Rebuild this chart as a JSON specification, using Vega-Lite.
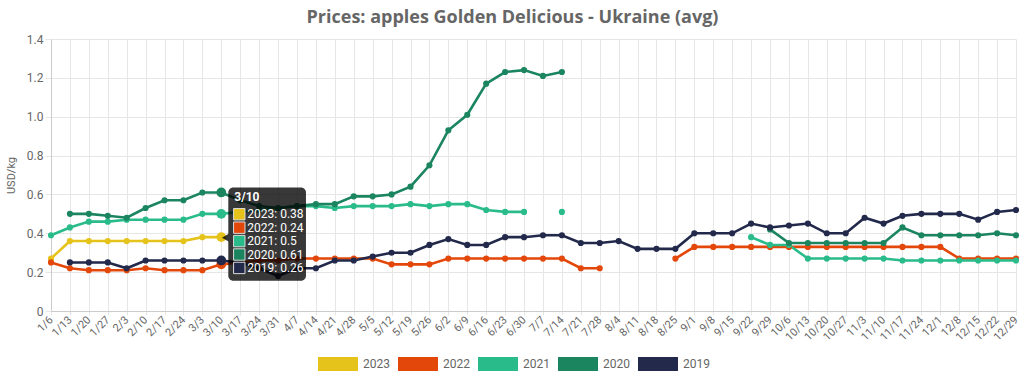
{
  "$schema": "https://vega.github.io/schema/vega-lite/v6.json",
  "width": 965,
  "height": 272,
  "autosize": {"type": "none"},
  "padding": {"left": 51, "top": 39, "right": 8, "bottom": 68},
  "background": "white",
  "config": {
    "view": {"stroke": null},
    "font": "Roboto"
  },
  "title": {
    "text": "Prices: apples Golden Delicious - Ukraine (avg)",
    "font": "Open Sans",
    "fontSize": 18,
    "fontWeight": "bold",
    "color": "#666666",
    "anchor": "middle",
    "dx": -21,
    "offset": 6
  },
  "datasets": {
    "tip": [
      {"row": 0, "text": "3/10", "year": null},
      {"row": 1, "text": "2023: 0.38", "year": "2023"},
      {"row": 2, "text": "2022: 0.24", "year": "2022"},
      {"row": 3, "text": "2021: 0.5", "year": "2021"},
      {"row": 4, "text": "2020: 0.61", "year": "2020"},
      {"row": 5, "text": "2019: 0.26", "year": "2019"}
    ]
  },
  "layer": [
    {
      "data": {"values": [
        {"week":"1/6","year":"2023","price":0.27},{"week":"1/13","year":"2023","price":0.36},{"week":"1/20","year":"2023","price":0.36},{"week":"1/27","year":"2023","price":0.36},{"week":"2/3","year":"2023","price":0.36},{"week":"2/10","year":"2023","price":0.36},{"week":"2/17","year":"2023","price":0.36},{"week":"2/24","year":"2023","price":0.36},{"week":"3/3","year":"2023","price":0.38},{"week":"3/10","year":"2023","price":0.38},

        {"week":"1/6","year":"2022","price":0.25},{"week":"1/13","year":"2022","price":0.22},{"week":"1/20","year":"2022","price":0.21},{"week":"1/27","year":"2022","price":0.21},{"week":"2/3","year":"2022","price":0.21},{"week":"2/10","year":"2022","price":0.22},{"week":"2/17","year":"2022","price":0.21},{"week":"2/24","year":"2022","price":0.21},{"week":"3/3","year":"2022","price":0.21},{"week":"3/10","year":"2022","price":0.24},{"week":"3/17","year":"2022","price":0.25},{"week":"3/24","year":"2022","price":0.26},{"week":"3/31","year":"2022","price":0.26},{"week":"4/7","year":"2022","price":0.27},{"week":"4/14","year":"2022","price":0.27},{"week":"4/21","year":"2022","price":0.27},{"week":"4/28","year":"2022","price":0.27},{"week":"5/5","year":"2022","price":0.27},{"week":"5/12","year":"2022","price":0.24},{"week":"5/19","year":"2022","price":0.24},{"week":"5/26","year":"2022","price":0.24},{"week":"6/2","year":"2022","price":0.27},{"week":"6/9","year":"2022","price":0.27},{"week":"6/16","year":"2022","price":0.27},{"week":"6/23","year":"2022","price":0.27},{"week":"6/30","year":"2022","price":0.27},{"week":"7/7","year":"2022","price":0.27},{"week":"7/14","year":"2022","price":0.27},{"week":"7/21","year":"2022","price":0.22},{"week":"7/28","year":"2022","price":0.22},{"week":"8/4","year":"2022","price":null},{"week":"8/25","year":"2022","price":0.27},{"week":"9/1","year":"2022","price":0.33},{"week":"9/8","year":"2022","price":0.33},{"week":"9/15","year":"2022","price":0.33},{"week":"9/22","year":"2022","price":0.33},{"week":"9/29","year":"2022","price":0.33},{"week":"10/6","year":"2022","price":0.33},{"week":"10/13","year":"2022","price":0.33},{"week":"10/20","year":"2022","price":0.33},{"week":"10/27","year":"2022","price":0.33},{"week":"11/3","year":"2022","price":0.33},{"week":"11/10","year":"2022","price":0.33},{"week":"11/17","year":"2022","price":0.33},{"week":"11/24","year":"2022","price":0.33},{"week":"12/1","year":"2022","price":0.33},{"week":"12/8","year":"2022","price":0.27},{"week":"12/15","year":"2022","price":0.27},{"week":"12/22","year":"2022","price":0.27},{"week":"12/29","year":"2022","price":0.27},

        {"week":"1/6","year":"2021","price":0.39},{"week":"1/13","year":"2021","price":0.43},{"week":"1/20","year":"2021","price":0.46},{"week":"1/27","year":"2021","price":0.46},{"week":"2/3","year":"2021","price":0.47},{"week":"2/10","year":"2021","price":0.47},{"week":"2/17","year":"2021","price":0.47},{"week":"2/24","year":"2021","price":0.47},{"week":"3/3","year":"2021","price":0.5},{"week":"3/10","year":"2021","price":0.5},{"week":"3/17","year":"2021","price":0.51},{"week":"3/24","year":"2021","price":0.52},{"week":"3/31","year":"2021","price":0.53},{"week":"4/7","year":"2021","price":0.54},{"week":"4/14","year":"2021","price":0.54},{"week":"4/21","year":"2021","price":0.53},{"week":"4/28","year":"2021","price":0.54},{"week":"5/5","year":"2021","price":0.54},{"week":"5/12","year":"2021","price":0.54},{"week":"5/19","year":"2021","price":0.55},{"week":"5/26","year":"2021","price":0.54},{"week":"6/2","year":"2021","price":0.55},{"week":"6/9","year":"2021","price":0.55},{"week":"6/16","year":"2021","price":0.52},{"week":"6/23","year":"2021","price":0.51},{"week":"6/30","year":"2021","price":0.51},{"week":"7/7","year":"2021","price":null},{"week":"7/14","year":"2021","price":0.51},{"week":"7/21","year":"2021","price":null},{"week":"9/22","year":"2021","price":0.38},{"week":"9/29","year":"2021","price":0.34},{"week":"10/6","year":"2021","price":0.34},{"week":"10/13","year":"2021","price":0.27},{"week":"10/20","year":"2021","price":0.27},{"week":"10/27","year":"2021","price":0.27},{"week":"11/3","year":"2021","price":0.27},{"week":"11/10","year":"2021","price":0.27},{"week":"11/17","year":"2021","price":0.26},{"week":"11/24","year":"2021","price":0.26},{"week":"12/1","year":"2021","price":0.26},{"week":"12/8","year":"2021","price":0.26},{"week":"12/15","year":"2021","price":0.26},{"week":"12/22","year":"2021","price":0.26},{"week":"12/29","year":"2021","price":0.26},

        {"week":"1/13","year":"2020","price":0.5},{"week":"1/20","year":"2020","price":0.5},{"week":"1/27","year":"2020","price":0.49},{"week":"2/3","year":"2020","price":0.48},{"week":"2/10","year":"2020","price":0.53},{"week":"2/17","year":"2020","price":0.57},{"week":"2/24","year":"2020","price":0.57},{"week":"3/3","year":"2020","price":0.61},{"week":"3/10","year":"2020","price":0.61},{"week":"3/17","year":"2020","price":0.57},{"week":"3/24","year":"2020","price":0.54},{"week":"3/31","year":"2020","price":0.53},{"week":"4/7","year":"2020","price":0.54},{"week":"4/14","year":"2020","price":0.55},{"week":"4/21","year":"2020","price":0.55},{"week":"4/28","year":"2020","price":0.59},{"week":"5/5","year":"2020","price":0.59},{"week":"5/12","year":"2020","price":0.6},{"week":"5/19","year":"2020","price":0.64},{"week":"5/26","year":"2020","price":0.75},{"week":"6/2","year":"2020","price":0.93},{"week":"6/9","year":"2020","price":1.01},{"week":"6/16","year":"2020","price":1.17},{"week":"6/23","year":"2020","price":1.23},{"week":"6/30","year":"2020","price":1.24},{"week":"7/7","year":"2020","price":1.21},{"week":"7/14","year":"2020","price":1.23},{"week":"7/21","year":"2020","price":null},{"week":"9/29","year":"2020","price":0.42},{"week":"10/6","year":"2020","price":0.35},{"week":"10/13","year":"2020","price":0.35},{"week":"10/20","year":"2020","price":0.35},{"week":"10/27","year":"2020","price":0.35},{"week":"11/3","year":"2020","price":0.35},{"week":"11/10","year":"2020","price":0.35},{"week":"11/17","year":"2020","price":0.43},{"week":"11/24","year":"2020","price":0.39},{"week":"12/1","year":"2020","price":0.39},{"week":"12/8","year":"2020","price":0.39},{"week":"12/15","year":"2020","price":0.39},{"week":"12/22","year":"2020","price":0.4},{"week":"12/29","year":"2020","price":0.39},

        {"week":"1/13","year":"2019","price":0.25},{"week":"1/20","year":"2019","price":0.25},{"week":"1/27","year":"2019","price":0.25},{"week":"2/3","year":"2019","price":0.22},{"week":"2/10","year":"2019","price":0.26},{"week":"2/17","year":"2019","price":0.26},{"week":"2/24","year":"2019","price":0.26},{"week":"3/3","year":"2019","price":0.26},{"week":"3/10","year":"2019","price":0.26},{"week":"3/17","year":"2019","price":0.25},{"week":"3/24","year":"2019","price":0.22},{"week":"3/31","year":"2019","price":0.18},{"week":"4/7","year":"2019","price":0.22},{"week":"4/14","year":"2019","price":0.22},{"week":"4/21","year":"2019","price":0.26},{"week":"4/28","year":"2019","price":0.26},{"week":"5/5","year":"2019","price":0.28},{"week":"5/12","year":"2019","price":0.3},{"week":"5/19","year":"2019","price":0.3},{"week":"5/26","year":"2019","price":0.34},{"week":"6/2","year":"2019","price":0.37},{"week":"6/9","year":"2019","price":0.34},{"week":"6/16","year":"2019","price":0.34},{"week":"6/23","year":"2019","price":0.38},{"week":"6/30","year":"2019","price":0.38},{"week":"7/7","year":"2019","price":0.39},{"week":"7/14","year":"2019","price":0.39},{"week":"7/21","year":"2019","price":0.35},{"week":"7/28","year":"2019","price":0.35},{"week":"8/4","year":"2019","price":0.36},{"week":"8/11","year":"2019","price":0.32},{"week":"8/18","year":"2019","price":0.32},{"week":"8/25","year":"2019","price":0.32},{"week":"9/1","year":"2019","price":0.4},{"week":"9/8","year":"2019","price":0.4},{"week":"9/15","year":"2019","price":0.4},{"week":"9/22","year":"2019","price":0.45},{"week":"9/29","year":"2019","price":0.43},{"week":"10/6","year":"2019","price":0.44},{"week":"10/13","year":"2019","price":0.45},{"week":"10/20","year":"2019","price":0.4},{"week":"10/27","year":"2019","price":0.4},{"week":"11/3","year":"2019","price":0.48},{"week":"11/10","year":"2019","price":0.45},{"week":"11/17","year":"2019","price":0.49},{"week":"11/24","year":"2019","price":0.5},{"week":"12/1","year":"2019","price":0.5},{"week":"12/8","year":"2019","price":0.5},{"week":"12/15","year":"2019","price":0.47},{"week":"12/22","year":"2019","price":0.51},{"week":"12/29","year":"2019","price":0.52}
      ]},
      "encoding": {
        "x": {
          "field": "week",
          "type": "ordinal",
          "sort": ["1/6","1/13","1/20","1/27","2/3","2/10","2/17","2/24","3/3","3/10","3/17","3/24","3/31","4/7","4/14","4/21","4/28","5/5","5/12","5/19","5/26","6/2","6/9","6/16","6/23","6/30","7/7","7/14","7/21","7/28","8/4","8/11","8/18","8/25","9/1","9/8","9/15","9/22","9/29","10/6","10/13","10/20","10/27","11/3","11/10","11/17","11/24","12/1","12/8","12/15","12/22","12/29"],
          "scale": {"type": "point", "padding": 0},
          "axis": {
            "title": null,
            "labelAngle": -45,
            "labelAlign": "right",
            "labelBaseline": "middle",
            "labelFontSize": 11,
            "labelColor": "#666666",
            "labelPadding": 3,
            "tickSize": 4,
            "tickColor": "#e6e6e6",
            "domainColor": "#cccccc",
            "grid": true,
            "gridColor": "#e6e6e6"
          }
        },
        "y": {
          "field": "price",
          "type": "quantitative",
          "scale": {"domain": [0, 1.4], "nice": false},
          "axis": {
            "title": "USD/kg",
            "values": [0, 0.2, 0.4, 0.6, 0.8, 1.0, 1.2, 1.4],
            "labelExpr": "datum.value == 0 ? '0' : format(datum.value, '.1f')",
            "labelFontSize": 12,
            "labelColor": "#666666",
            "labelPadding": 2,
            "tickSize": 6,
            "tickColor": "#e6e6e6",
            "domainColor": "#cccccc",
            "gridColor": "#e6e6e6",
            "titleFontSize": 11,
            "titleFontWeight": "normal",
            "titleColor": "#666666",
            "titlePadding": 10
          }
        },
        "color": {
          "field": "year",
          "type": "nominal",
          "scale": {
            "domain": ["2023", "2022", "2021", "2020", "2019"],
            "range": ["#e6c31b", "#e4470a", "#2abb8a", "#1b8560", "#22294b"]
          },
          "legend": {
            "title": null,
            "orient": "none",
            "direction": "horizontal",
            "legendX": 267,
            "legendY": 305,
            "symbolType": "M-1,-0.35H1V0.35H-1Z",
            "symbolSize": 1600,
            "symbolStrokeWidth": 0,
            "labelFontSize": 12,
            "labelColor": "#666666",
            "labelOffset": 5,
            "columnPadding": 8,
            "encode": {
              "symbols": {
                "update": {
                  "fill": {"scale": "color", "field": "value"},
                  "opacity": {"value": 1}
                }
              }
            }
          }
        }
      },
      "layer": [
        {"mark": {"type": "line", "strokeWidth": 2.6, "invalid": "break-paths-filter-domains"}},
        {
          "mark": {"type": "point", "filled": true, "opacity": 1},
          "encoding": {
            "size": {"condition": {"test": "datum.week === '3/10'", "value": 95}, "value": 38}
          }
        }
      ]
    },
    {
      "layer": [
        {
          "data": {"values": [{}]},
          "mark": {"type": "rect", "fill": "#000000", "opacity": 0.78, "cornerRadius": 5, "xOffset": 7, "x2Offset": 9},
          "encoding": {
            "x": {"datum": "3/10"},
            "x2": {"datum": "4/7"},
            "y": {"datum": -1, "type": "quantitative", "scale": {"domain": [-12.06, 8.21], "reverse": true, "nice": false, "zero": false}, "axis": null},
            "y2": {"datum": 5.95}
          }
        },
        {
          "data": {"values": [{}]},
          "mark": {"type": "point", "shape": "triangle-left", "filled": true, "fill": "#000000", "opacity": 0.78, "size": 60, "xOffset": 4},
          "encoding": {
            "x": {"datum": "3/10"},
            "y": {"datum": 2.75, "type": "quantitative", "scale": {"domain": [-12.06, 8.21], "reverse": true, "nice": false, "zero": false}, "axis": null}
          }
        },
        {
          "data": {"name": "tip"},
          "transform": [{"filter": "datum.row == 0"}],
          "mark": {"type": "text", "align": "left", "baseline": "middle", "dx": 13, "dy": -3.4, "color": "#ffffff", "font": "Roboto", "fontSize": 12, "fontWeight": "bold"},
          "encoding": {
            "x": {"datum": "3/10"},
            "y": {"field": "row", "type": "quantitative", "scale": {"domain": [-12.06, 8.21], "reverse": true, "nice": false, "zero": false}, "axis": null},
            "text": {"field": "text"}
          }
        },
        {
          "data": {"name": "tip"},
          "transform": [{"filter": "datum.row > 0"}],
          "mark": {"type": "point", "shape": "square", "filled": true, "size": 130, "xOffset": 18, "stroke": "#dddddd", "strokeWidth": 1, "opacity": 1},
          "encoding": {
            "x": {"datum": "3/10"},
            "y": {"field": "row", "type": "quantitative", "scale": {"domain": [-12.06, 8.21], "reverse": true, "nice": false, "zero": false}, "axis": null},
            "color": {"field": "year", "type": "nominal", "legend": null}
          }
        },
        {
          "data": {"name": "tip"},
          "transform": [{"filter": "datum.row > 0"}],
          "mark": {"type": "text", "align": "left", "baseline": "middle", "dx": 26, "color": "#ffffff", "font": "Roboto", "fontSize": 12},
          "encoding": {
            "x": {"datum": "3/10"},
            "y": {"field": "row", "type": "quantitative", "scale": {"domain": [-12.06, 8.21], "reverse": true, "nice": false, "zero": false}, "axis": null},
            "text": {"field": "text"}
          }
        }
      ]
    }
  ],
  "resolve": {"scale": {"y": "independent"}}
}
